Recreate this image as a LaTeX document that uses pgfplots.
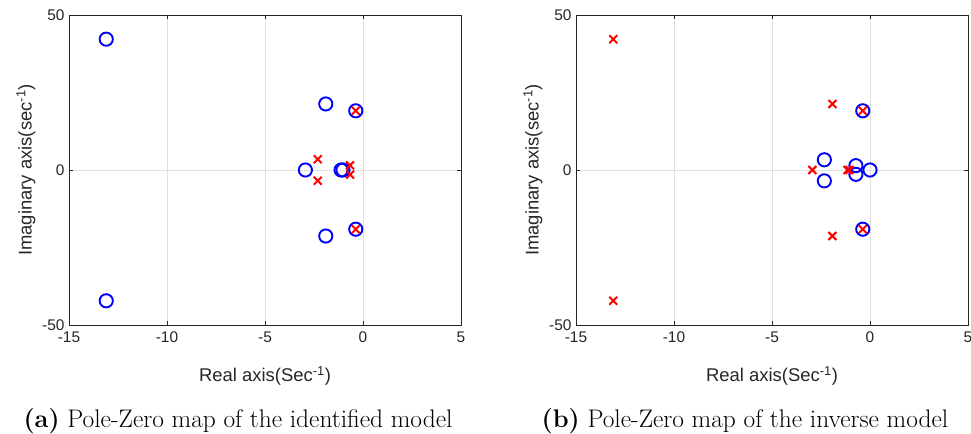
\documentclass[border=0pt]{standalone}
\usepackage{fontspec}
\setsansfont{Liberation Sans}
\usepackage{pgfplots}
\pgfplotsset{compat=1.18}
\definecolor{axgray}{gray}{0.15}
\definecolor{grgray}{gray}{0.88}
\pgfplotsset{
  pz/.style={
    scale only axis, width=392bp, height=310bp,
    xmin=-15, xmax=5, ymin=-50, ymax=50,
    xtick={-15,-10,-5,0,5}, ytick={-50,0,50},
    grid=major, major grid style={grgray, line width=0.6bp},
    axis line style={axgray, line width=0.6bp},
    every tick/.style={axgray, line width=0.6bp},
    major tick length=4bp,
    tick align=inside,
    /pgf/number format/assume math mode=true,
    tick label style={font=\sffamily\fontsize{15.5}{15.5}\selectfont, text=axgray},
    xticklabel style={yshift=-3bp},
    yticklabel style={xshift=-1bp},
    clip=false,
  },
  zer/.style={only marks, mark=o, mark size=6.6bp, blue, line width=1.9bp},
  pol/.style={only marks, mark=x, mark size=5.6bp, red, line width=2bp},
}
\begin{document}
\begin{tikzpicture}[x=1bp,y=1bp]
\useasboundingbox (0,0) rectangle (971,434);
% ---- (a) identified model
\begin{axis}[pz, at={(69bp,109bp)}, anchor=south west]
\addplot[zer] coordinates {(-13.1,42.2) (-13.1,-42.2) (-1.9,21.3) (-1.9,-21.3)
  (-0.37,19.1) (-0.37,-19.1) (-2.94,0) (-1.12,0) (-1.02,0)};
\addplot[pol] coordinates {(-0.37,19.1) (-0.37,-19.1) (-2.31,3.45) (-2.31,-3.45)
  (-0.66,1.5) (-0.66,-1.5)};
\node[font=\sffamily\fontsize{18.5}{18.5}\selectfont, text=axgray, anchor=center]
  at (axis description cs:0.5,-0.165) {Real axis(Sec\textsuperscript{-1})};
\node[font=\sffamily\fontsize{18.5}{18.5}\selectfont, text=axgray, anchor=center, rotate=90]
  at (axis description cs:-0.11,0.5) {Imaginary axis(sec\textsuperscript{-1})};
\end{axis}
% ---- (b) inverse model
\begin{axis}[pz, at={(576bp,109bp)}, anchor=south west]
\addplot[zer] coordinates {(-0.37,19.1) (-0.37,-19.1) (-2.33,3.3) (-2.33,-3.5)
  (-0.72,1.4) (-0.72,-1.4) (0,0)};
\addplot[pol] coordinates {(-13.1,42.2) (-13.1,-42.2) (-1.92,21.3) (-1.92,-21.3)
  (-0.37,19.1) (-0.37,-19.1) (-2.94,0) (-1.15,0) (-1.05,0)};
\node[font=\sffamily\fontsize{18.5}{18.5}\selectfont, text=axgray, anchor=center]
  at (axis description cs:0.5,-0.165) {Real axis(Sec\textsuperscript{-1})};
\node[font=\sffamily\fontsize{18.5}{18.5}\selectfont, text=axgray, anchor=center, rotate=90]
  at (axis description cs:-0.11,0.5) {Imaginary axis(sec\textsuperscript{-1})};
\end{axis}
\node[font=\fontsize{25.5}{26}\selectfont, anchor=center] at (238,13) {\textbf{(a)} Pole-Zero map of the identified model};
\node[font=\fontsize{25.5}{26}\selectfont, anchor=center] at (745,13) {\textbf{(b)} Pole-Zero map of the inverse model};
\end{tikzpicture}
\end{document}
